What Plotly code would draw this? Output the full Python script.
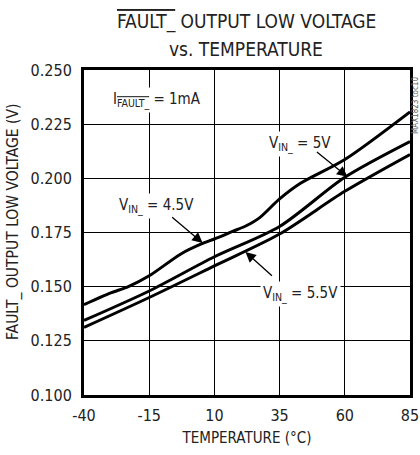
import plotly.graph_objects as go

# Data
temp_45 = [-40, -30, -23, -15, -3, 5, 10, 17, 22, 27, 35, 43, 60, 85]
vout_45 = [0.1417, 0.1470, 0.1500, 0.1550, 0.1650, 0.1697, 0.1720, 0.1755, 0.1780, 0.1815, 0.1905, 0.1977, 0.2087, 0.2307]

temp_50 = [-40, -15, 10, 35, 60, 85]
vout_50 = [0.1344, 0.1480, 0.1638, 0.1778, 0.2005, 0.2170]

temp_55 = [-40, -15, 10, 35, 60, 85]
vout_55 = [0.1312, 0.1450, 0.1596, 0.1743, 0.1940, 0.2110]

x_ticks = [-40, -15, 10, 35, 60, 85]
x_ticktext = ["-40", "-15", "10", "35", "60", "85"]
y_ticks = [0.100, 0.125, 0.150, 0.175, 0.200, 0.225, 0.250]
y_ticktext = ["0.100", "0.125", "0.150", "0.175", "0.200", "0.225", "0.250"]

FONT = "DejaVu Sans Condensed, Liberation Sans Narrow, Arial Narrow, sans-serif"
OL = '<span style="text-decoration:overline">'

W, H = 420, 455
L, R, T, B = 84, 10, 70, 60
PW, PH = W - L - R, H - T - B

fig = go.Figure()
for t, v in [(temp_45, vout_45), (temp_50, vout_50), (temp_55, vout_55)]:
    fig.add_trace(go.Scatter(x=t, y=v, mode="lines",
                             line=dict(color="black", width=3, shape="spline", smoothing=0.8),
                             showlegend=False, hoverinfo="skip"))

fig.update_layout(
    width=W, height=H,
    margin=dict(l=L, r=R, t=T, b=B, autoexpand=False),
    paper_bgcolor="white", plot_bgcolor="white",
    font=dict(family=FONT, size=15, color="#222"),
)
fig.update_xaxes(range=[-40, 85], tickvals=x_ticks, ticktext=x_ticktext, showgrid=True,
                 gridcolor="black", gridwidth=1, automargin=False,
                 showline=True, linecolor="black", linewidth=3, mirror=True, zeroline=False,
                 ticks="", tickfont=dict(size=16), ticklabelstandoff=4,
                 title=dict(text="TEMPERATURE (°C)", font=dict(size=15), standoff=9))
fig.update_yaxes(range=[0.1, 0.25], tickvals=y_ticks, ticktext=y_ticktext, showgrid=True,
                 gridcolor="black", gridwidth=1, automargin=False,
                 showline=True, linecolor="black", linewidth=3, mirror=True, zeroline=False,
                 ticks="", tickfont=dict(size=16), ticklabelstandoff=6)

# Title (two lines placed separately)
fig.add_annotation(xref="paper", yref="paper", x=(246 - L) / PW, y=1 + (T - 22) / PH,
                   text=OL + "FAULT_</span> OUTPUT LOW VOLTAGE", showarrow=False,
                   font=dict(size=19), xanchor="center", yanchor="middle")
fig.add_annotation(xref="paper", yref="paper", x=(246 - L) / PW, y=1 + (T - 49) / PH,
                   text="vs. TEMPERATURE", showarrow=False,
                   font=dict(size=19), xanchor="center", yanchor="middle")

fig.add_annotation(xref="paper", yref="paper", x=-(L - 13) / PW, y=(H - B - 222) / PH,
                   text="FAULT_ OUTPUT LOW VOLTAGE (V)",
                   textangle=-90, showarrow=False, font=dict(size=15.5), xanchor="center", yanchor="middle")

fig.add_annotation(xref="paper", yref="paper", x=1 + 5 / PW, y=1 - (105 - T) / PH, text="MAX1823 toc10",
                   textangle=-90, showarrow=False, font=dict(size=8, color="#666"),
                   xanchor="center", yanchor="middle")

labels = [
    (-12.1, 0.2362, "I<sub>" + OL + "FAULT_</span></sub> = 1mA"),
    (43, 0.2160, "V<sub>IN_</sub> = 5V"),
    (-12.1, 0.1872, "V<sub>IN_</sub> = 4.5V"),
    (43, 0.1468, "V<sub>IN_</sub> = 5.5V"),
]
for x, y, t in labels:
    fig.add_annotation(x=x, y=y, text=t, showarrow=False, bgcolor="white",
                       font=dict(size=15), borderpad=2)

arrows = [(61, 0.2007, -32, -26), (5.5, 0.1702, -32, -27), (21.9, 0.1660, 28, 25)]
for x, y, ax, ay in arrows:
    fig.add_annotation(x=x, y=y, ax=ax, ay=ay, text="", showarrow=True, arrowhead=2,
                       arrowsize=1.6, arrowwidth=1.3, arrowcolor="black")

fig.write_html("out.html", config={"displayModeBar": False},
               post_script="document.body.style.margin='0';document.body.style.overflow='hidden';")
